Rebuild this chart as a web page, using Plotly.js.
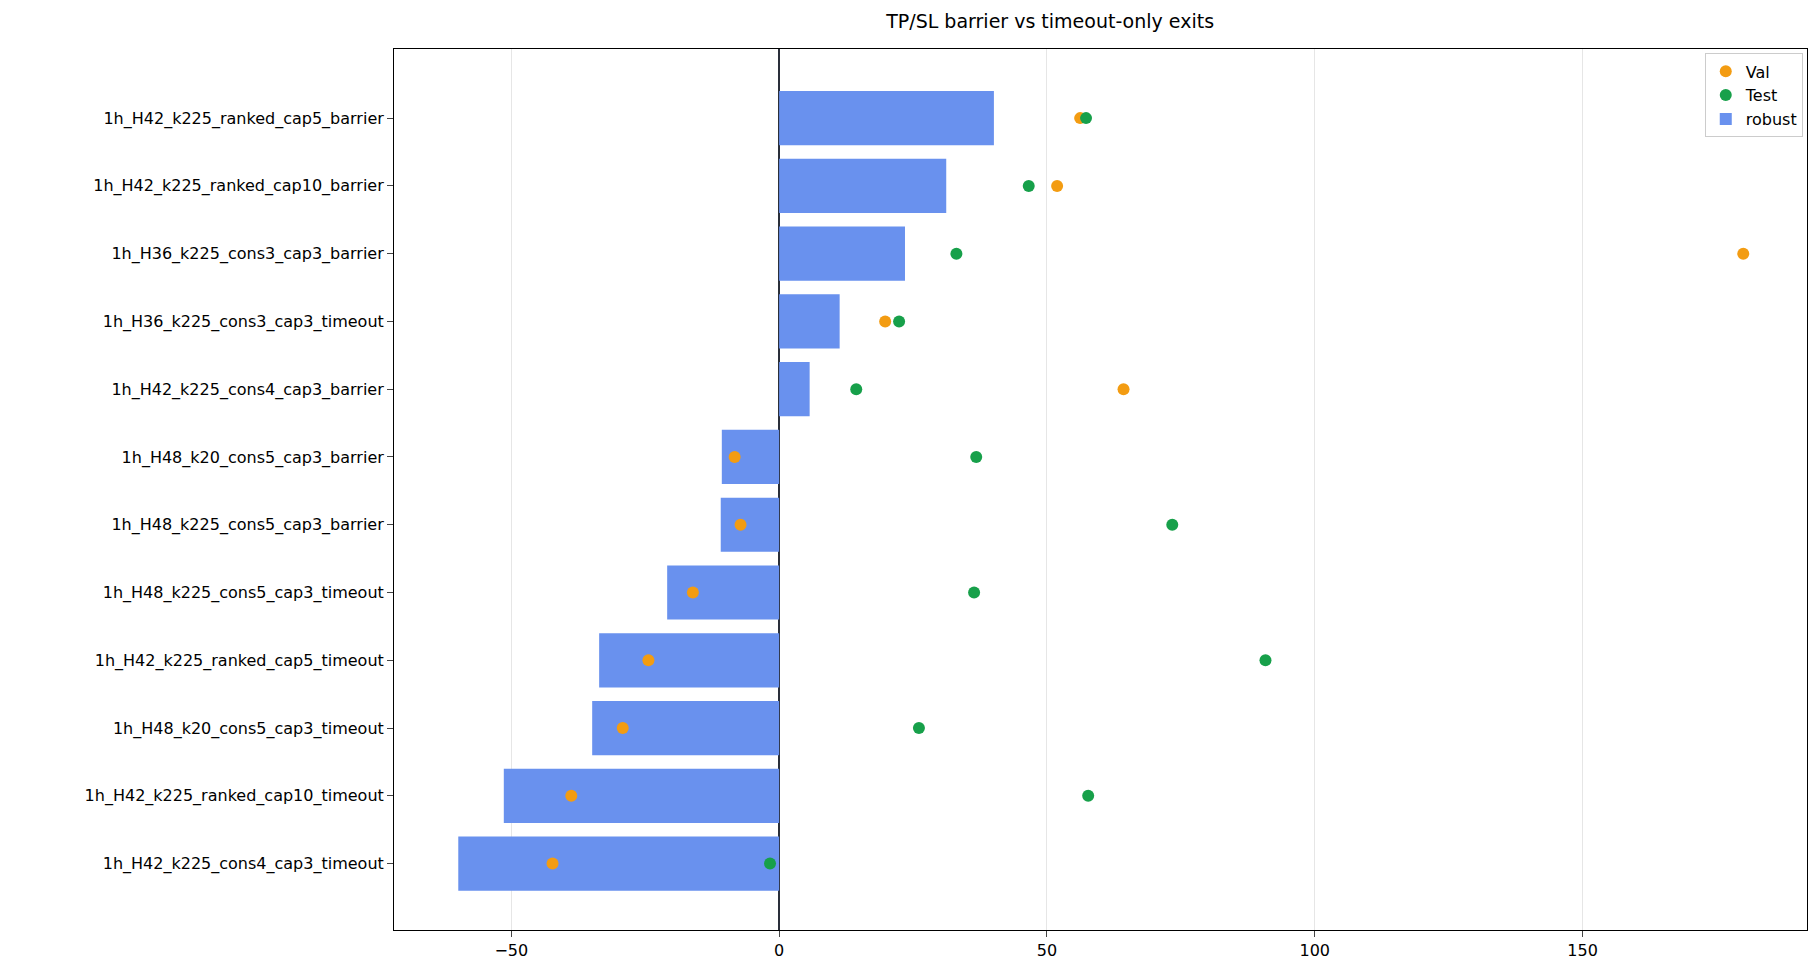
<!DOCTYPE html>
<html><head><meta charset="utf-8">
<script src="https://cdn.plot.ly/plotly-3.0.1.min.js"></script>
<style>body{margin:0}#chart{width:1820px;height:980px}</style>
</head><body><div id="chart"></div>
<script>
const names = ['1h_H42_k225_ranked_cap5_barrier','1h_H42_k225_ranked_cap10_barrier','1h_H36_k225_cons3_cap3_barrier',
  '1h_H36_k225_cons3_cap3_timeout','1h_H42_k225_cons4_cap3_barrier','1h_H48_k20_cons5_cap3_barrier',
  '1h_H48_k225_cons5_cap3_barrier','1h_H48_k225_cons5_cap3_timeout','1h_H42_k225_ranked_cap5_timeout',
  '1h_H48_k20_cons5_cap3_timeout','1h_H42_k225_ranked_cap10_timeout','1h_H42_k225_cons4_cap3_timeout'];
const robust = [40.1,31.2,23.5,11.3,5.7,-10.7,-10.9,-20.9,-33.6,-34.9,-51.4,-59.9];
const valScores = [56.2,51.9,180,19.8,64.3,-8.3,-7.2,-16.1,-24.4,-29.2,-38.8,-42.3];
const testScores = [57.3,46.6,33.1,22.4,14.4,36.8,73.4,36.4,90.8,26.1,57.7,-1.7];

const data = [
  {type:'bar',orientation:'h',x:robust,y:names,name:'robust',marker:{color:'#6991ee'},width:0.8},
  {type:'scatter',mode:'markers',x:valScores,y:names,name:'Val',marker:{color:'#f39c12',size:12}},
  {type:'scatter',mode:'markers',x:testScores,y:names,name:'Test',marker:{color:'#17a04a',size:12}}
];
const layout = {
  font:{family:'DejaVu Sans',size:16,color:'#000'},
  title:{text:'TP/SL barrier vs timeout-only exits',x:0.577,xanchor:'center',y:0.985,yanchor:'top',font:{size:19}},
  margin:{l:394,r:13,t:49,b:50},
  paper_bgcolor:'#fff',plot_bgcolor:'#fff',
  xaxis:{range:[-71.9,191.9],tickvals:[-50,0,50,100,150],ticktext:['−50','0','50','100','150'],
    showgrid:true,gridcolor:'#e6e6e6',zeroline:true,zerolinecolor:'#2a2f3a',zerolinewidth:2,
    showline:true,mirror:true,linecolor:'#000',ticks:'outside',ticklen:6},
  yaxis:{range:[11.98,-1.02],type:'category',showgrid:false,showline:true,mirror:true,linecolor:'#000',
    ticks:'outside',ticklen:6},
  showlegend:true,
  legend:{traceorder:'normal',x:0.997,y:0.995,xanchor:'right',yanchor:'top',bordercolor:'#ccc',borderwidth:1,bgcolor:'#fff'}
};
Plotly.newPlot('chart',[data[1],data[2],data[0]],layout,{displayModeBar:false});
</script></body></html>
